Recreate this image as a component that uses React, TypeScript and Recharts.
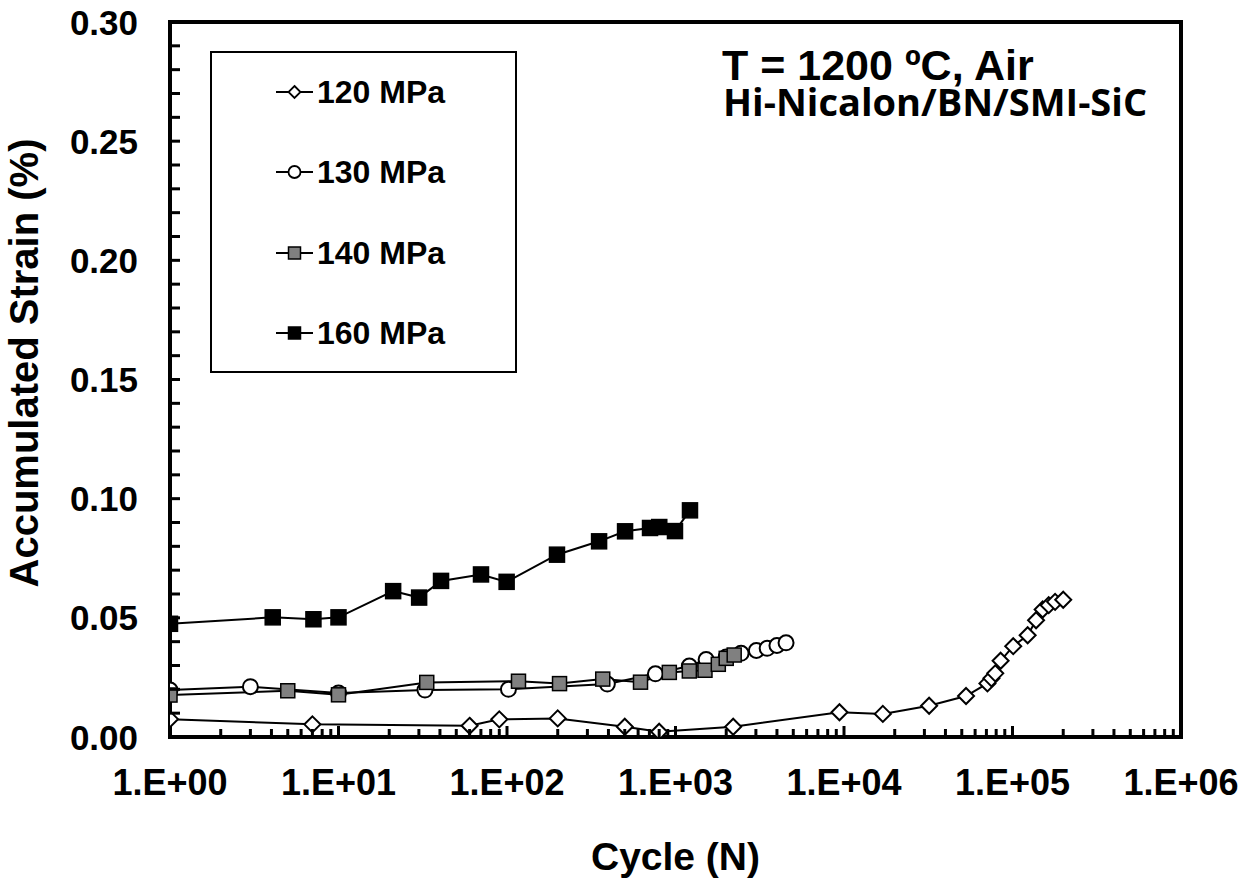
import { LineChart, Line, XAxis, YAxis, Legend, ReferenceArea } from "recharts"

// 120 MPa
const cycles120 = [1, 7, 60, 90, 200, 500, 800, 2200, 9400, 17000, 32000, 53000, 71000, 75000, 79000, 85000, 101000, 123000, 138000, 151000, 164000, 179000, 200000]
const strain120 = [0.0075, 0.0053, 0.0047, 0.0074, 0.0078, 0.0043, 0.0022, 0.0043, 0.0104, 0.0097, 0.0131, 0.0172, 0.0225, 0.0246, 0.0267, 0.032, 0.0381, 0.0427, 0.049, 0.0535, 0.0553, 0.0567, 0.0576]

// 130 MPa
const cycles130 = [1, 3, 10, 32.6, 102, 394, 760, 1208, 1520, 2000, 2450, 3020, 3500, 4000, 4530]
const strain130 = [0.0197, 0.0211, 0.0185, 0.0197, 0.02, 0.0222, 0.0265, 0.0298, 0.0325, 0.0336, 0.0351, 0.0363, 0.0372, 0.0384, 0.0395]

// 140 MPa
const cycles140 = [1, 5, 10, 33.4, 117, 205, 370, 620, 919, 1208, 1496, 1795, 2000, 2230]
const strain140 = [0.0176, 0.0194, 0.0177, 0.0229, 0.0234, 0.0224, 0.0243, 0.023, 0.0271, 0.0277, 0.028, 0.0305, 0.033, 0.0344]

// 160 MPa
const cycles160 = [1, 4.07, 7.1, 10, 21.1, 30.1, 40.6, 70.1, 99.5, 198, 352, 502, 706, 801, 993, 1219]
const strain160 = [0.0475, 0.0502, 0.0494, 0.0502, 0.0612, 0.0585, 0.0655, 0.0682, 0.0651, 0.0765, 0.0821, 0.0863, 0.0877, 0.0881, 0.0864, 0.0951]

const seriesNames = ["120 MPa", "130 MPa", "140 MPa", "160 MPa"]

const decades = [1, 10, 100, 1000, 10000, 100000, 1000000]
const strainLabels = [0, 0.05, 0.1, 0.15, 0.2, 0.25, 0.3]

// minor ticks: 2..9 in every decade, 0.01 steps on strain
const cycleTicks = decades.flatMap((d, i) =>
    i === decades.length - 1 ? [d] : [1, 2, 3, 4, 5, 6, 7, 8, 9].map((k) => k * d)
)
const strainTicks = Array.from({ length: 31 }, (_, i) => i / 100)

const toRows = (cycles: number[], strain: number[]) => cycles.map((n, i) => ({ n, strain: strain[i] }))
const data120 = toRows(cycles120, strain120)
const data130 = toRows(cycles130, strain130)
const data140 = toRows(cycles140, strain140)
const data160 = toRows(cycles160, strain160)

const FONT = "'Liberation Sans', Arial, sans-serif"
const X_MARGIN = 45
const Y_MARGIN = 32

const CycleTick = (props: any) => {
    const { x, y, payload } = props
    const exp = Math.log10(payload.value)
    const major = Math.abs(exp - Math.round(exp)) < 1e-6
    const axisY = y - X_MARGIN
    return (
        <g>
            <line x1={x} x2={x} y1={axisY} y2={axisY - (major ? 11 : 8)} stroke="#000" strokeWidth={3} />
            {major && (
                <text x={x} y={y} dy="0.36em" textAnchor="middle" fontFamily={FONT} fontWeight="bold" fontSize={36} fill="#000">
                    {`1.E+0${Math.round(exp)}`}
                </text>
            )}
        </g>
    )
}

const StrainTick = (props: any) => {
    const { x, y, payload } = props
    const axisX = x + Y_MARGIN
    const major = Math.round(payload.value * 100) % 5 === 0
    return (
        <g>
            <line x1={axisX} x2={axisX + 10} y1={y} y2={y} stroke="#000" strokeWidth={3} />
            {major && (
                <text x={x} y={y} dy="0.36em" textAnchor="end" fontFamily={FONT} fontWeight="bold" fontSize={35} fill="#000">
                    {payload.value.toFixed(2)}
                </text>
            )}
        </g>
    )
}

const diamondDot = (props: any) => {
    const { cx, cy, index } = props
    const r = 8
    return (
        <path
            key={`dia-${index}`}
            d={`M${cx},${cy - r}L${cx + r},${cy}L${cx},${cy + r}L${cx - r},${cy}Z`}
            fill="#fff"
            stroke="#000"
            strokeWidth={2}
        />
    )
}

const squareDot = (fill: string, size: number) => (props: any) => {
    const { cx, cy, index } = props
    return (
        <rect
            key={`sq-${fill}-${index}`}
            x={cx - size / 2}
            y={cy - size / 2}
            width={size}
            height={size}
            fill={fill}
            stroke="#000"
            strokeWidth={1.5}
        />
    )
}

const LegendMarker = ({ kind }: { kind: string }) => (
    <svg width={37} height={20}>
        <line x1={0} x2={37} y1={10} y2={10} stroke="#000" strokeWidth={2} />
        {kind === "diamond" && <path d="M18.5,4L24.5,10L18.5,16L12.5,10Z" fill="#fff" stroke="#000" strokeWidth={1.8} />}
        {kind === "circle" && <circle cx={18.5} cy={10} r={6} fill="#fff" stroke="#000" strokeWidth={1.8} />}
        {kind === "gray" && <rect x={12.5} y={4} width={12} height={12} fill="#808080" stroke="#000" strokeWidth={1.5} />}
        {kind === "black" && <rect x={12.5} y={4} width={12} height={12} fill="#000" stroke="#000" strokeWidth={1.5} />}
    </svg>
)

const markerKinds = ["diamond", "circle", "gray", "black"]
const legendRowCenters = [41, 121, 202, 282]

const LegendBox = () => (
    <div style={{ position: "relative", width: 307, height: 322, border: "2px solid #000", boxSizing: "border-box", background: "#fff" }}>
        {seriesNames.map((name, i) => (
            <div
                key={name}
                style={{
                    position: "absolute",
                    left: 64,
                    top: legendRowCenters[i] - 22,
                    height: 40,
                    display: "flex",
                    alignItems: "center",
                }}
            >
                <LegendMarker kind={markerKinds[i]} />
                <span style={{ fontFamily: FONT, fontWeight: "bold", fontSize: 32, marginLeft: 4, color: "#000", whiteSpace: "nowrap" }}>
                    {name}
                </span>
            </div>
        ))}
    </div>
)

export default function App() {
    return (
        <div style={{ position: "absolute", left: 0, top: 0, width: 1252, height: 884, background: "#fff" }}>
            <LineChart width={1252} height={884} margin={{ top: 22, right: 71, left: 0, bottom: 0 }}>
                <XAxis
                    dataKey="n"
                    type="number"
                    scale="log"
                    domain={[1, 1000000]}
                    allowDataOverflow
                    ticks={cycleTicks}
                    interval={0}
                    tick={CycleTick}
                    tickLine={false}
                    tickSize={0}
                    tickMargin={X_MARGIN}
                    axisLine={false}
                    height={147}
                    label={{
                        content: () => (
                            <text x={675.5} y={870} textAnchor="middle" fontFamily={FONT} fontWeight="bold" fontSize={39} fill="#000">
                                Cycle (N)
                            </text>
                        ),
                    }}
                />
                <YAxis
                    type="number"
                    domain={[0, 0.3]}
                    allowDataOverflow
                    ticks={strainTicks}
                    interval={0}
                    tick={StrainTick}
                    tickLine={false}
                    tickSize={0}
                    tickMargin={Y_MARGIN}
                    axisLine={false}
                    width={170}
                    label={{
                        content: () => (
                            <text
                                x={38}
                                y={363}
                                transform="rotate(-90 38 363)"
                                textAnchor="middle"
                                fontFamily={FONT}
                                fontWeight="bold"
                                fontSize={40}
                                fill="#000"
                            >
                                Accumulated Strain (%)
                            </text>
                        ),
                    }}
                />
                <ReferenceArea x1={1} x2={1000000} y1={0} y2={0.3} fill="none" stroke="#000" strokeWidth={4} />
                <Line data={data120} dataKey="strain" name={seriesNames[0]} stroke="#000" strokeWidth={2} dot={diamondDot} activeDot={false} isAnimationActive={false} />
                <Line
                    data={data130}
                    dataKey="strain"
                    name={seriesNames[1]}
                    stroke="#000"
                    strokeWidth={2}
                    dot={{ r: 7.5, fill: "#fff", stroke: "#000", strokeWidth: 2 }}
                    activeDot={false}
                    isAnimationActive={false}
                />
                <Line data={data140} dataKey="strain" name={seriesNames[2]} stroke="#000" strokeWidth={2} dot={squareDot("#808080", 14)} activeDot={false} isAnimationActive={false} />
                <Line data={data160} dataKey="strain" name={seriesNames[3]} stroke="#000" strokeWidth={2} dot={squareDot("#000", 15)} activeDot={false} isAnimationActive={false} />
                <Legend
                    layout="horizontal"
                    verticalAlign="middle"
                    align="center"
                    wrapperStyle={{ left: 210, top: 51, width: 307, height: 322 }}
                    content={() => <LegendBox />}
                />
            </LineChart>
            <svg width={1252} height={884} style={{ position: "absolute", left: 0, top: 0, pointerEvents: "none" }}>
                <text x={722} y={80} fontFamily={FONT} fontWeight="bold" fontSize={43} fill="#000">
                    T = 1200 ºC, Air
                </text>
                <text x={723} y={116} fontFamily="'Open Sans', sans-serif" fontWeight={700} fontSize={38} fill="#000">
                    Hi-Nicalon/BN/SMI-SiC
                </text>
            </svg>
        </div>
    )
}
